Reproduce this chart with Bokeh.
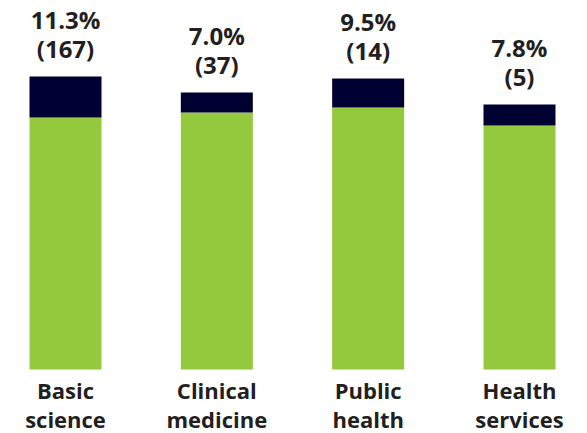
from bokeh.plotting import figure
from bokeh.models import Range1d, ColumnDataSource
from bokeh.core.properties import value
from bokeh.embed import file_html
from bokeh.resources import INLINE

categories = ["Basic science", "Clinical medicine", "Public health", "Health services"]
green_vals = [252, 257, 262, 244]
navy_vals = [41, 20, 29, 21]
pct_labels = ["11.3%", "7.0%", "9.5%", "7.8%"]
count_labels = ["(167)", "(37)", "(14)", "(5)"]

GREEN = "#95C93D"
NAVY = "#000033"
TXT = "#231F20"
FONT = value("Open Sans")

xs = list(range(len(categories)))
tops = [g + n for g, n in zip(green_vals, navy_vals)]
line1 = [c.split(" ")[0] for c in categories]
line2 = [" ".join(c.split(" ")[1:]) for c in categories]

src = ColumnDataSource(dict(x=xs, g=green_vals, t=tops, pct=pct_labels, cnt=count_labels,
                            l1=line1, l2=line2, zero=[0] * len(xs)))

W, H = 587, 433
unit = 151.33
x0 = -65 / unit
p = figure(width=W, height=H, output_backend="svg", toolbar_location=None,
           x_range=Range1d(x0, x0 + W / unit), y_range=Range1d(-64, 369),
           min_border=0, min_border_left=0, min_border_right=0,
           min_border_top=0, min_border_bottom=0)
p.axis.visible = False
p.grid.visible = False
p.outline_line_color = None
p.background_fill_color = "white"
p.border_fill_color = "white"

bw = 72 / unit
p.vbar(x="x", bottom="zero", top="g", width=bw, color=GREEN, line_color=None, source=src)
p.vbar(x="x", bottom="g", top="t", width=bw, color=NAVY, line_color=None, source=src)

common = dict(text_font=FONT, text_font_style="bold", text_color=TXT,
              text_align="center", text_baseline="alphabetic", source=src)
p.text(x="x", y="t", text="pct", y_offset=-57, text_font_size="24px", **common)
p.text(x="x", y="t", text="cnt", y_offset=-28, text_font_size="24px", **common)
p.text(x="x", y="zero", text="l1", y_offset=20, text_font_size="22px", **common)
p.text(x="x", y="zero", text="l2", y_offset=49, text_font_size="22px", **common)

open("out.html", "w").write(file_html(p, INLINE))
